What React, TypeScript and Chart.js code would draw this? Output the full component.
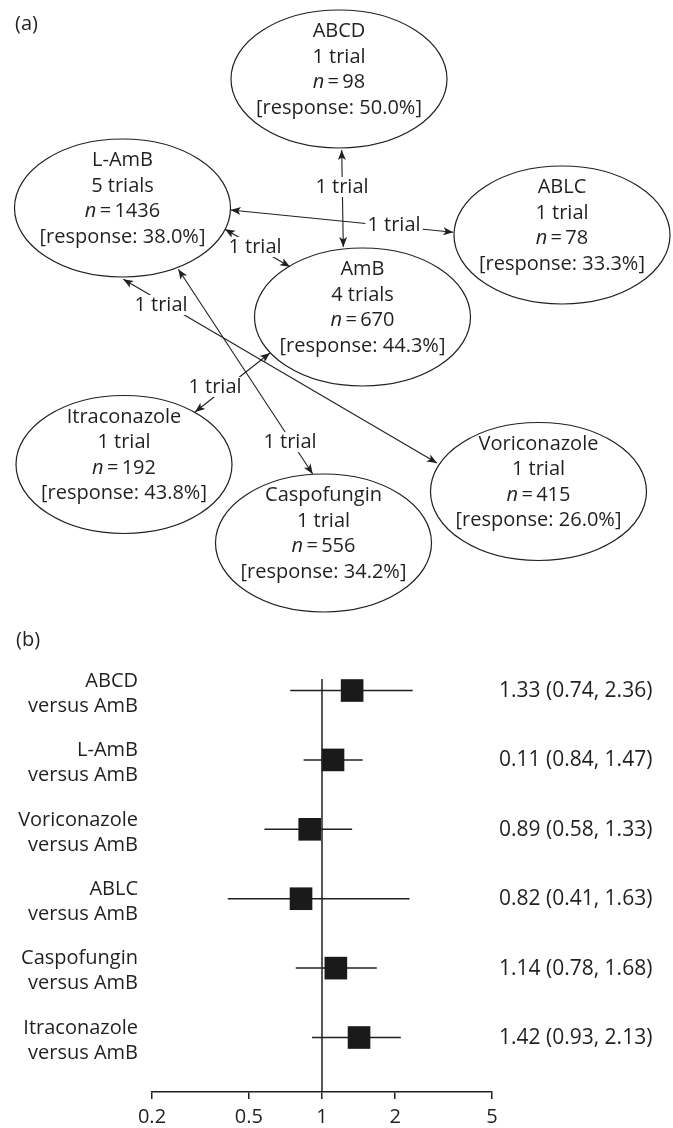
import React, { useEffect, useRef } from 'react';
import { Chart, registerables } from 'chart.js';

Chart.register(...registerables);

const FONT = "'Open Sans', sans-serif";
const INK = '#231f20';

// ---------- (a) network of trials ----------
const treatments = ['ABCD', 'L-AmB', 'ABLC', 'AmB', 'Itraconazole', 'Voriconazole', 'Caspofungin'];
const trialCounts = [1, 5, 1, 4, 1, 1, 1];
const patientCounts = [98, 1436, 78, 670, 192, 415, 556];
const responseRates = ['50.0', '38.0', '33.3', '44.3', '43.8', '26.0', '34.2'];
// diagram layout coordinates of node centres
const nodeX = [339, 122.5, 562, 362.5, 124, 538.5, 323.5];
const nodeY = [79, 208, 235, 317, 464.5, 491.5, 543];

// direct comparisons (edges)
const edgeFrom = [0, 1, 1, 1, 1, 3];
const edgeTo = [3, 2, 3, 5, 6, 4];
const edgeTrials = [1, 1, 1, 1, 1, 1];
// diagram layout coordinates of edge anchors and labels
const edgeStartX = [341.7, 230.7, 225, 123.3, 178.3, 270];
const edgeStartY = [150, 210, 229.3, 279.3, 269.3, 353];
const edgeEndX = [343.3, 453.3, 290, 437, 312.7, 195];
const edgeEndY = [247, 232.3, 266.7, 463, 474, 412];
const edgeLabelX = [342, 394, 255, 161, 290, 215];
const edgeLabelY = [187, 225, 247, 305, 442, 387];

// ---------- (b) forest plot ----------
const comparisons = ['ABCD', 'L-AmB', 'Voriconazole', 'ABLC', 'Caspofungin', 'Itraconazole'];
const oddsRatios = [1.33, 1.11, 0.89, 0.82, 1.14, 1.42];
const ciLow = [0.74, 0.84, 0.58, 0.41, 0.78, 0.91];
const ciHigh = [2.36, 1.47, 1.33, 2.29, 1.68, 2.11];
const estimateLabels = [
  '1.33 (0.74, 2.36)',
  '0.11 (0.84, 1.47)',
  '0.89 (0.58, 1.33)',
  '0.82 (0.41, 1.63)',
  '1.14 (0.78, 1.68)',
  '1.42 (0.93, 2.13)',
];
const xTickValues = [0.2, 0.5, 1, 2, 5];

const W = 673;
const HA = 615;
const HB = 540;
const TOP_B = 600;
const ELL_RX = 108;
const ELL_RY = 69;
const Y_MIN = -0.166;
const Y_MAX = 5.785;

function arrowHead(ctx: CanvasRenderingContext2D, tx: number, ty: number, fx: number, fy: number) {
  const ang = Math.atan2(ty - fy, tx - fx);
  ctx.save();
  ctx.translate(tx, ty);
  ctx.rotate(ang);
  ctx.beginPath();
  ctx.moveTo(0, 0);
  ctx.lineTo(-10, -4);
  ctx.lineTo(-7.5, 0);
  ctx.lineTo(-10, 4);
  ctx.closePath();
  ctx.fillStyle = INK;
  ctx.fill();
  ctx.restore();
}

const networkPlugin = {
  id: 'network',
  afterDatasetsDraw(chart: any) {
    const ctx: CanvasRenderingContext2D = chart.ctx;
    const xs = chart.scales.x;
    const ys = chart.scales.y;
    const px = (v: number) => xs.getPixelForValue(v);
    const py = (v: number) => ys.getPixelForValue(v);
    ctx.save();
    // arrow heads
    edgeFrom.forEach((_, i) => {
      const sx = px(edgeStartX[i]), sy = py(edgeStartY[i]);
      const ex = px(edgeEndX[i]), ey = py(edgeEndY[i]);
      arrowHead(ctx, sx, sy, ex, ey);
      arrowHead(ctx, ex, ey, sx, sy);
    });
    // edge labels
    ctx.font = `20px ${FONT}`;
    ctx.textAlign = 'center';
    ctx.textBaseline = 'middle';
    edgeFrom.forEach((_, i) => {
      const t = `${edgeTrials[i]} trial${edgeTrials[i] > 1 ? 's' : ''}`;
      const lx = px(edgeLabelX[i]), ly = py(edgeLabelY[i]);
      const w = ctx.measureText(t).width;
      ctx.fillStyle = '#fff';
      ctx.fillRect(lx - w / 2 - 2, ly - 10, w + 4, 20);
      ctx.fillStyle = INK;
      ctx.fillText(t, lx, ly);
    });
    // nodes
    treatments.forEach((name, i) => {
      const cx = px(nodeX[i]);
      const cy = py(nodeY[i]);
      const rx = Math.abs(px(nodeX[i] + ELL_RX) - cx);
      const ry = Math.abs(py(nodeY[i] + ELL_RY) - cy);
      ctx.beginPath();
      ctx.ellipse(cx, cy, rx, ry, 0, 0, Math.PI * 2);
      ctx.strokeStyle = INK;
      ctx.lineWidth = 1.2;
      ctx.stroke();
      ctx.fillStyle = INK;
      ctx.textBaseline = 'middle';
      ctx.textAlign = 'center';
      ctx.font = `20px ${FONT}`;
      ctx.fillText(name, cx, cy - 47.3);
      ctx.fillText(`${trialCounts[i]} trial${trialCounts[i] > 1 ? 's' : ''}`, cx, cy - 22);
      // n = value line
      ctx.font = `italic 20px ${FONT}`;
      const wn = ctx.measureText('n').width;
      ctx.font = `20px ${FONT}`;
      const rest = `\u2009=\u2009${patientCounts[i]}`;
      const wr = ctx.measureText(rest).width;
      const x0 = cx - (wn + wr) / 2;
      ctx.textAlign = 'left';
      ctx.font = `italic 20px ${FONT}`;
      ctx.fillText('n', x0, cy + 3.5);
      ctx.font = `20px ${FONT}`;
      ctx.fillText(rest, x0 + wn, cy + 3.5);
      ctx.textAlign = 'center';
      ctx.fillText(`[response: ${responseRates[i]}%]`, cx, cy + 29);
    });
    // panel label
    ctx.textAlign = 'left';
    ctx.fillText('(a)', 15, 24);
    ctx.restore();
  },
};

const forestPlugin = {
  id: 'forestText',
  afterDraw(chart: any) {
    const ctx: CanvasRenderingContext2D = chart.ctx;
    const ys = chart.scales.y;
    const area = chart.chartArea;
    ctx.save();
    ctx.fillStyle = INK;
    ctx.textBaseline = 'middle';
    comparisons.forEach((name, i) => {
      const y = ys.getPixelForValue(i);
      ctx.font = `20px ${FONT}`;
      ctx.textAlign = 'right';
      ctx.fillText(name, area.left - 14, y - 9.5);
      ctx.fillText('versus AmB', area.left - 14, y + 15.5);
      ctx.font = `21px ${FONT}`;
      ctx.textAlign = 'left';
      ctx.fillText(estimateLabels[i], area.right + 7, y + 0.5);
    });
    ctx.font = `20px ${FONT}`;
    ctx.textAlign = 'left';
    ctx.fillText('(b)', 16, 40);
    ctx.restore();
  },
};

export default function App() {
  const aRef = useRef<HTMLCanvasElement>(null);
  const bRef = useRef<HTMLCanvasElement>(null);

  useEffect(() => {
    const edgeSets = edgeFrom.map((_, i) => ({
      data: [
        { x: edgeStartX[i], y: edgeStartY[i] },
        { x: edgeEndX[i], y: edgeEndY[i] },
      ],
      showLine: true,
      borderColor: INK,
      borderWidth: 1.1,
      pointRadius: 0,
    }));
    const chartA = new Chart(aRef.current!, {
      type: 'scatter',
      data: {
        datasets: [
          ...edgeSets,
          {
            data: nodeX.map((x, i) => ({ x, y: nodeY[i] })),
            pointRadius: 0,
            showLine: false,
          },
        ],
      },
      options: {
        responsive: false,
        animation: false,
        devicePixelRatio: 1,
        events: [],
        layout: { padding: 0 },
        plugins: { legend: { display: false }, tooltip: { enabled: false } },
        scales: {
          x: { type: 'linear', min: 0, max: W, display: false },
          y: { type: 'linear', min: 0, max: HA, reverse: true, display: false },
        },
      },
      plugins: [networkPlugin],
    } as any);

    const ciSets = comparisons.map((_, i) => ({
      data: [
        { x: ciLow[i], y: i },
        { x: ciHigh[i], y: i },
      ],
      showLine: true,
      borderColor: INK,
      borderWidth: 1.5,
      pointRadius: 0,
      order: 1,
      clip: false,
    }));
    const chartB = new Chart(bRef.current!, {
      type: 'scatter',
      data: {
        datasets: [
          {
            data: oddsRatios.map((v, i) => ({ x: v, y: i })),
            pointStyle: 'rect',
            pointRadius: 16,
            borderWidth: 0,
            backgroundColor: '#1a1a1a',
            order: 0,
            clip: false,
          },
          ...ciSets,
          {
            data: [
              { x: 1, y: Y_MIN },
              { x: 1, y: Y_MAX },
            ],
            showLine: true,
            borderColor: INK,
            borderWidth: 1.5,
            pointRadius: 0,
            order: 2,
          },
        ],
      },
      options: {
        responsive: false,
        animation: false,
        devicePixelRatio: 1,
        events: [],
        layout: { padding: { left: 152, right: 181, top: 79, bottom: 5 } },
        plugins: { legend: { display: false }, tooltip: { enabled: false } },
        scales: {
          x: {
            type: 'logarithmic',
            min: 0.2,
            max: 5,
            bounds: 'data',
            afterBuildTicks: (s: any) => {
              s.ticks = xTickValues.map((v) => ({ value: v }));
            },
            ticks: {
              autoSkip: false,
              maxRotation: 0,
              padding: 6,
              color: INK,
              font: { family: FONT, size: 20 },
              callback: (v: any) => String(v),
            },
            grid: {
              display: true,
              drawOnChartArea: false,
              drawTicks: true,
              tickLength: 7,
              color: INK,
              lineWidth: 1.5,
              tickColor: INK,
              tickWidth: 1.5,
            },
            border: { display: true, color: INK, width: 1.5 },
          },
          y: { type: 'linear', min: Y_MIN, max: Y_MAX, reverse: true, display: false },
        },
      },
      plugins: [forestPlugin],
    } as any);

    return () => {
      chartA.destroy();
      chartB.destroy();
    };
  }, []);

  return (
    <div
      style={{
        position: 'absolute',
        left: 0,
        top: 0,
        width: W,
        height: 1128,
        overflow: 'hidden',
        background: '#fff',
      }}
    >
      <canvas
        ref={aRef}
        width={W}
        height={HA}
        style={{ position: 'absolute', left: 0, top: 0, width: W, height: HA }}
      />
      <canvas
        ref={bRef}
        width={W}
        height={HB}
        style={{ position: 'absolute', left: 0, top: TOP_B, width: W, height: HB }}
      />
    </div>
  );
}
